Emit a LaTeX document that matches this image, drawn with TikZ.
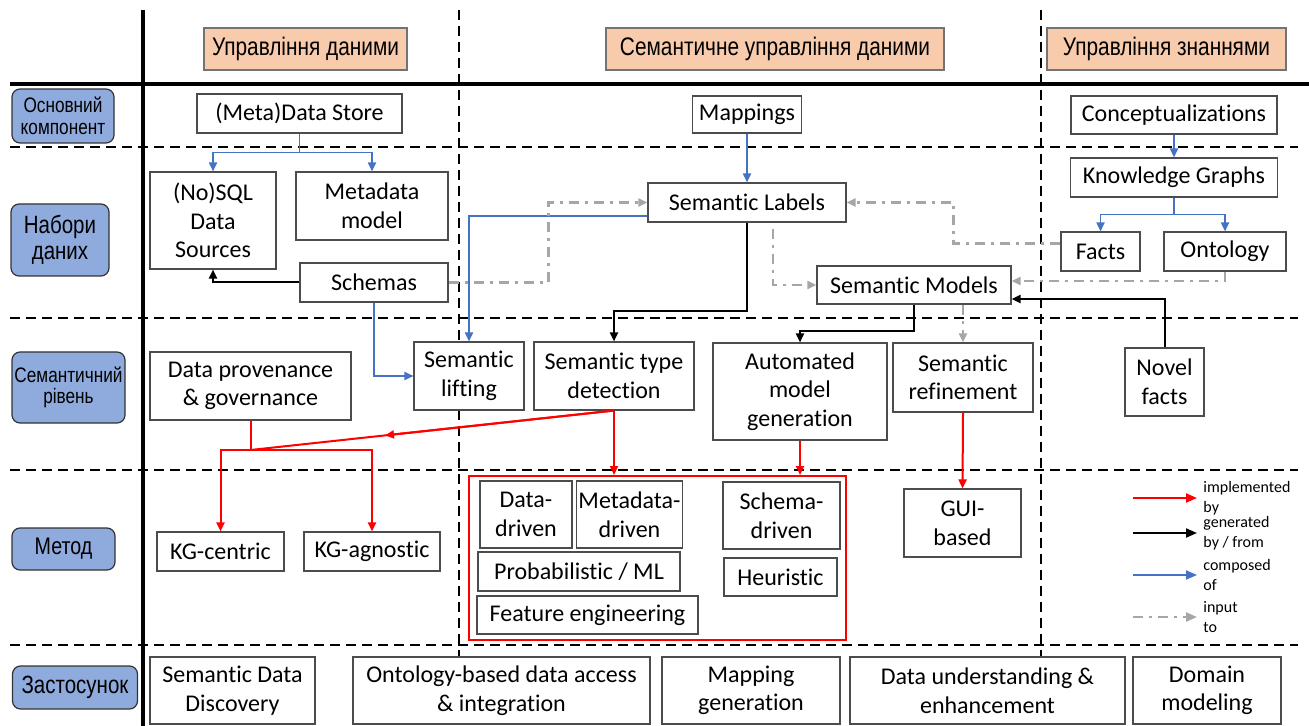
\documentclass[tikz,border=0pt]{standalone}
\usepackage{fontspec}
\setmainfont[RawFeature={-liga;-clig;-calt;-dlig}]{Carlito}
\newfontfamily\narrowfont[FakeStretch=0.82]{Liberation Sans}
\usetikzlibrary{arrows.meta,calc}
\definecolor{hdrfill}{HTML}{F8CBAD}
\definecolor{rowfill}{HTML}{8FAADC}
\definecolor{compblue}{HTML}{4472C4}
\definecolor{inpgray}{HTML}{A6A6A6}
\tikzset{
  box/.style={draw=black!70, line width=0.55pt, fill=white, align=center, inner sep=1pt,
    font=\fontsize{12}{14.3}\selectfont},
  hdr/.style={draw=black!55, fill=hdrfill, line width=0.6pt, inner sep=1pt,
    font=\narrowfont\fontsize{12.7}{15}\selectfont},
  rowlbl/.style={draw=black!80, fill=rowfill, rounded corners=4pt, line width=0.6pt,
    align=center, inner sep=1pt},
  rowsep/.style={line width=1pt, dash pattern=on 5pt off 3pt},
  frame line/.style={line width=2pt},
  impl/.style={->, draw=red, line width=1pt},
  gen/.style={->, draw=black, line width=1pt},
  comp/.style={->, draw=compblue, line width=0.9pt},
  inp/.style={->, draw=inpgray, line width=1.2pt, dash pattern=on 5pt off 3pt on 1.5pt off 3pt},
  legtext/.style={align=left, inner sep=1pt, font=\fontsize{8}{10}\selectfont},
  legtip/.style={>={Triangle[length=5.5pt,width=4.5pt]}},
}

\begin{document}
\begin{tikzpicture}[x=0.5pt, y=-0.5pt, >={Triangle[length=4.5pt,width=4pt]}]
  \useasboundingbox (0,0) rectangle (1309,726);

  \draw[frame line] (143,10) -- (143,726);
  \draw[frame line] (10,84) -- (1309,84);
  \draw[rowsep] (459,10) -- (459,726);
  \draw[rowsep] (1041,10) -- (1041,726);
  \foreach \y in {147,318,470,645}
    \draw[rowsep] (10,\y) -- (1298,\y);

  \node[hdr, minimum width=101.5pt, minimum height=21pt] (hdm) at (305.5,49) {Управління даними};
  \node[hdr, minimum width=169pt, minimum height=21pt] (hsdm) at (775,49) {Семантичне управління даними};
  \node[hdr, minimum width=119.5pt, minimum height=21pt] (hkm) at (1166.5,49) {Управління знаннями};

  \node[rowlbl, minimum width=51pt, minimum height=27pt, font=\narrowfont\fontsize{10.5}{11}\selectfont] (rcore) at (63,116) {Основний\\компонент};
  \node[rowlbl, minimum width=49pt, minimum height=36pt, font=\narrowfont\fontsize{12.5}{12.8}\selectfont] (rdata) at (60,240) {Набори\\даних};
  \node[rowlbl, minimum width=56.5pt, minimum height=35.5pt, font=\narrowfont\fontsize{10.5}{10.5}\selectfont] (rsem) at (68.5,387.5) {Семантичний\\рівень};
  \node[rowlbl, minimum width=51.5pt, minimum height=21pt, font=\narrowfont\fontsize{12}{12}\selectfont] (rmeth) at (63.5,549) {Метод};
  \node[rowlbl, minimum width=62.5pt, minimum height=21.5pt, font=\narrowfont\fontsize{12.5}{12.5}\selectfont] (rapp) at (75,687.5) {Застосунок};

  \node[box, minimum width=102.5pt, minimum height=19.5pt] (store) at (299.5,113.5) {(Meta)Data Store};
  \node[box, minimum width=54.5pt, minimum height=18.5pt] (mapp) at (747,114.5) {Mappings};
  \node[box, minimum width=103pt, minimum height=19pt] (concept) at (1174,115) {Conceptualizations};

  \node[box, minimum width=63pt, minimum height=48.5pt] (nosql) at (213,220.5) {(No)SQL\\Data\\Sources};
  \node[box, minimum width=76pt, minimum height=34pt] (metamodel) at (372,206) {Metadata\\model};
  \node[box, minimum width=74pt, minimum height=19.5pt] (schemas) at (374,282.5) {Schemas};
  \node[box, minimum width=99pt, minimum height=19.5pt] (labels) at (747,202.5) {Semantic Labels};
  \node[box, minimum width=103.5pt, minimum height=19.5pt] (kg) at (1174,177.5) {Knowledge Graphs};
  \node[box, minimum width=39.5pt, minimum height=19.5pt] (facts) at (1100.5,251.5) {Facts};
  \node[box, minimum width=61pt, minimum height=19.5pt] (onto) at (1225,251.5) {Ontology};
  \node[box, minimum width=97pt, minimum height=19pt] (models) at (914,285) {Semantic Models};

  \node[box, minimum width=100.5pt, minimum height=34pt] (prov) at (250.5,386) {Data provenance\\\& governance};
  \node[box, minimum width=55pt, minimum height=34pt] (lift) at (469,376) {Semantic\\lifting};
  \node[box, minimum width=80pt, minimum height=34pt] (sdt) at (614,376) {Semantic type\\detection};
  \node[box, minimum width=87pt, minimum height=48.5pt] (amg) at (800,391.5) {Automated\\model\\generation};
  \node[box, minimum width=70pt, minimum height=34.5pt] (refine) at (963,377.5) {Semantic\\refinement};
  \node[box, minimum width=39.5pt, minimum height=34pt] (novel) at (1164.5,382) {Novel\\facts};

  \node[box, minimum width=63.5pt, minimum height=19.5pt] (kgc) at (220.5,551.5) {KG-centric};
  \node[box, minimum width=68pt, minimum height=19.5pt] (kga) at (372,551.5) {KG-agnostic};
  \node[draw=red, line width=1pt, minimum width=188.5pt, minimum height=82pt] (methods) at (657.5,558) {};
  \node[box, minimum width=46pt, minimum height=33.5pt] (ddriven) at (526,514.5) {Data-\\driven};
  \node[box, minimum width=49.5pt, minimum height=33.5pt] (mdriven) at (629.5,514.5) {Metadata-\\driven};
  \node[box, minimum width=101pt, minimum height=19.5pt] (prob) at (579,571.5) {Probabilistic / ML};
  \node[box, minimum width=110.5pt, minimum height=19pt] (feat) at (587.5,615) {Feature engineering};
  \node[box, minimum width=58.5pt, minimum height=33.5pt] (sdriven) at (781.5,515.5) {Schema-\\driven};
  \node[box, minimum width=56.5pt, minimum height=19pt] (heur) at (780.5,577) {Heuristic};
  \node[box, minimum width=58.5pt, minimum height=34pt] (gui) at (962.5,523) {GUI-\\based};

  \node[box, minimum width=82.5pt, minimum height=33.5pt] (sdd) at (232.5,690.5) {Semantic Data\\Discovery};
  \node[box, minimum width=148.5pt, minimum height=33.5pt] (obda) at (501.5,690.5) {Ontology-based data access\\\& integration};
  \node[box, minimum width=89pt, minimum height=33.5pt] (mapgen) at (751,690.5) {Mapping\\generation};
  \node[box, minimum width=137.5pt, minimum height=33.5pt] (dataund) at (987.5,690.5) {Data understanding \&\\enhancement};
  \node[box, minimum width=74pt, minimum height=33.5pt] (dommod) at (1207,690.5) {Domain\\modeling};

  \draw[comp] (store.south) -- ++(0,19) coordinate (sj) -| (nosql.north);
  \draw[comp] (sj) -| (metamodel.north);
  \draw[comp] (mapp) -- (labels);
  \draw[comp] (concept) -- (kg);
  \draw[comp] (kg.south) -- ++(0,17) coordinate (kj) -| (facts.north);
  \draw[comp] (kj) -| (onto.north);
  \draw[comp] ([yshift=-6.75pt]labels.west) -| (lift.north);
  \draw[comp] (schemas.south) |- (lift.west);

  \draw[gen] (schemas.west) -| (nosql.south);
  \draw[gen] (labels.south) -- ++(0,88) -| (sdt.north);
  \draw[gen] (models.south) -- ++(0,26) -| (amg.north);
  \draw[gen] (novel.north) |- ([yshift=-7pt]models.east);

  \draw[inp] (schemas.east) -- ++(100,0) |- (labels.west);
  \draw[inp] ([yshift=4pt]facts.west) -- ++(-107,0) |- (labels.east);
  \draw[inp, shorten <=3pt] ([xshift=13pt]labels.south) |- (models.west);
  \draw[inp] (onto.south) |- ([yshift=2pt]models.east);
  \draw[inp] (refine.north |- models.south) -- (refine.north);

  \coordinate (pj) at (250.5,450);
  \draw[impl, -] (sdt.south) -- (pj);
  \draw[impl] (sdt.south) -- ($(sdt.south)!0.63!(pj)$);
  \draw[impl, -] (prov.south) -- (pj);
  \draw[impl] (pj) -| (kgc.north);
  \draw[impl] (pj) -| (kga.north);
  \draw[impl] (sdt.south) -- (sdt.south |- methods.north);
  \draw[impl] (amg.south) -- (amg.south |- methods.north);
  \draw[impl] (refine.south) -- (gui.north);

  \node[legtext, anchor=west] (limpl) at (1201,498) {implemented\\by};
  \node[legtext, anchor=west] (lgen) at (1201,533) {generated\\by / from};
  \node[legtext, anchor=west] (lcomp) at (1201,575) {composed\\of};
  \node[legtext, anchor=west] (linp) at (1201,617) {input\\to};
  \coordinate (la1) at (1133,498);
  \coordinate (la2) at (1133,533);
  \coordinate (la3) at (1133,575);
  \coordinate (la4) at (1133,617);
  \draw[impl, legtip, shorten >=2pt] (la1) -- (limpl.west);
  \draw[gen, legtip, shorten >=2pt] (la2) -- (lgen.west);
  \draw[comp, legtip, shorten >=2pt] (la3) -- (lcomp.west);
  \draw[inp, legtip, shorten >=2pt] (la4) -- (linp.west);
\end{tikzpicture}
\end{document}
